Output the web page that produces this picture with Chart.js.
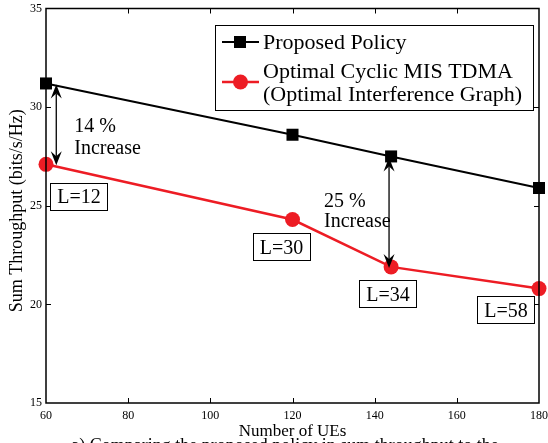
<!DOCTYPE html>
<html>
<head>
<meta charset="utf-8">
<script src="https://cdn.jsdelivr.net/npm/chart.js@4.4.1/dist/chart.umd.min.js"></script>
<style>
  html, body { margin: 0; background: #fff; }
</style>
</head>
<body>
<canvas id="c" width="548" height="443"></canvas>
<script>
// values
const ues = [60, 120, 144, 180];
const proposed = [31.2, 28.6, 27.5, 25.9];
const cyclic = [27.1, 24.3, 21.9, 20.8];
const cycleLen = ['L=12', 'L=30', 'L=34', 'L=58'];
const gainAt = [62.5, 143.5];      // x position of the double arrows
const gainIdx = [0, 2];            // which point pair each arrow spans
const gainText = ['14 %', '25 %'];
const xTicks = [60, 80, 100, 120, 140, 160, 180];
const yTicks = [15, 20, 25, 30, 35];

const SERIF = '"Liberation Serif", "Times New Roman", serif';
const RED = '#ed1c24';

// layout of the little boxes / texts (pixel offsets from the marks)
const boxOff = [[33, 32], [-11, 27], [-3, 27], [-33, 21]];
const gainOff = [{ dx: 18, l1: 7.5, l2: 29.5 }, { dx: -65, l1: -6, l2: 14 }];

function arrowHead(ctx, x, y, dir) {
  // dir = -1 points up, 1 points down
  ctx.beginPath();
  ctx.moveTo(x, y);
  ctx.lineTo(x - 5.5, y - dir * 14);
  ctx.lineTo(x, y - dir * 9);
  ctx.lineTo(x + 5.5, y - dir * 14);
  ctx.closePath();
  ctx.fill();
}

const decor = {
  id: 'decor',
  afterDatasetsDraw(chart) {
    const { ctx, chartArea: a, scales: { x, y } } = chart;
    ctx.save();

    // frame + inward ticks
    ctx.strokeStyle = '#000';
    ctx.lineWidth = 1.5;
    ctx.strokeRect(a.left, a.top, a.right - a.left, a.bottom - a.top);
    ctx.lineWidth = 1;
    ctx.beginPath();
    xTicks.slice(1, -1).forEach((v) => {
      const px = Math.round(x.getPixelForValue(v)) + 0.5;
      ctx.moveTo(px, a.bottom); ctx.lineTo(px, a.bottom - 5);
      ctx.moveTo(px, a.top); ctx.lineTo(px, a.top + 5);
    });
    yTicks.slice(1, -1).forEach((v) => {
      const py = Math.round(y.getPixelForValue(v)) + 0.5;
      ctx.moveTo(a.left, py); ctx.lineTo(a.left + 5, py);
      ctx.moveTo(a.right, py); ctx.lineTo(a.right - 5, py);
    });
    ctx.stroke();

    // double arrows with gain text
    ctx.fillStyle = '#000';
    ctx.strokeStyle = '#000';
    ctx.lineWidth = 1.3;
    ctx.font = '20px ' + SERIF;
    ctx.textAlign = 'left';
    ctx.textBaseline = 'alphabetic';
    gainAt.forEach((gx, k) => {
      const i = gainIdx[k];
      const px = x.getPixelForValue(gx);
      const y1 = y.getPixelForValue(proposed[i]) + 1;
      const y2 = y.getPixelForValue(cyclic[i]) + 1;
      ctx.beginPath();
      ctx.moveTo(px, y1 + 9); ctx.lineTo(px, y2 - 9);
      ctx.stroke();
      arrowHead(ctx, px, y1, -1);
      arrowHead(ctx, px, y2, 1);
      const mid = (y1 + y2) / 2;
      const o = gainOff[k];
      ctx.fillText(gainText[k], px + o.dx, mid + o.l1);
      ctx.fillText('Increase', px + o.dx, mid + o.l2);
    });

    // cycle length boxes
    ctx.textAlign = 'center';
    cycleLen.forEach((t, i) => {
      const cx = x.getPixelForValue(ues[i]) + boxOff[i][0];
      const cy = y.getPixelForValue(cyclic[i]) + boxOff[i][1];
      const w = ctx.measureText(t).width + 14;
      const h = 27;
      ctx.fillStyle = '#fff';
      ctx.fillRect(cx - w / 2, cy - h / 2, w, h);
      ctx.lineWidth = 1;
      ctx.strokeRect(Math.round(cx - w / 2) + 0.5, Math.round(cy - h / 2) + 0.5, Math.round(w), h);
      ctx.fillStyle = '#000';
      ctx.fillText(t, cx, cy + 7);
    });

    ctx.restore();
  },
  afterDraw(chart) {
    const { ctx, chartArea: a, data } = chart;
    ctx.save();

    // legend
    ctx.fillStyle = '#fff';
    ctx.fillRect(215, 25, 318, 85);
    ctx.strokeStyle = '#000';
    ctx.lineWidth = 1;
    ctx.strokeRect(215.5, 25.5, 318, 85);

    ctx.lineWidth = 2;
    ctx.beginPath(); ctx.moveTo(222, 42); ctx.lineTo(259, 42); ctx.stroke();
    ctx.fillStyle = '#000';
    ctx.fillRect(234, 36, 12, 12);

    ctx.strokeStyle = RED;
    ctx.lineWidth = 2.5;
    ctx.beginPath(); ctx.moveTo(222, 82); ctx.lineTo(259, 82); ctx.stroke();
    ctx.fillStyle = RED;
    ctx.beginPath(); ctx.arc(240.5, 82, 7.5, 0, Math.PI * 2); ctx.fill();

    ctx.fillStyle = '#000';
    ctx.font = '22px ' + SERIF;
    ctx.textAlign = 'left';
    ctx.textBaseline = 'alphabetic';
    ctx.fillText(data.datasets[0].label, 263, 49);
    const lab2 = data.datasets[1].label;
    ctx.fillText(lab2[0], 263, 78);
    ctx.fillText(lab2[1], 263, 101);

    // axis titles
    ctx.font = '17px ' + SERIF;
    ctx.textAlign = 'center';
    ctx.fillText('Number of UEs', (a.left + a.right) / 2, 436);
    ctx.save();
    ctx.translate(22, (a.top + a.bottom) / 2 + 5);
    ctx.rotate(-Math.PI / 2);
    ctx.font = '18px ' + SERIF;
    ctx.fillText('Sum Throughput (bits/s/Hz)', 0, 0);
    ctx.restore();

    // caption (cut off by the bottom edge)
    ctx.font = '18px ' + SERIF;
    ctx.fillText('a) Comparing the proposed policy in sum throughput to the', 285, 451);

    ctx.restore();
  }
};

const tickFont = { family: SERIF, size: 12 };

new Chart(document.getElementById('c'), {
  type: 'line',
  data: {
    datasets: [
      {
        label: 'Proposed Policy',
        data: ues.map((u, i) => ({ x: u, y: proposed[i] })),
        borderColor: '#000', backgroundColor: '#000',
        borderWidth: 2, pointStyle: 'rect', pointRadius: 8.5,
        pointBorderWidth: 0, tension: 0, clip: false,
      },
      {
        label: ['Optimal Cyclic MIS TDMA', '(Optimal Interference Graph)'],
        data: ues.map((u, i) => ({ x: u, y: cyclic[i] })),
        borderColor: RED, backgroundColor: RED,
        borderWidth: 2.5, pointStyle: 'circle', pointRadius: 7.5,
        pointBorderWidth: 0, tension: 0, clip: false,
      },
    ],
  },
  options: {
    responsive: false,
    animation: false,
    layout: { padding: { top: 7, right: 9, left: 0, bottom: 0 } },
    plugins: { legend: { display: false }, tooltip: { enabled: false } },
    scales: {
      x: {
        type: 'linear', min: 60, max: 180,
        afterBuildTicks: (s) => { s.ticks = xTicks.map((v) => ({ value: v })); },
        ticks: { color: '#000', font: tickFont, padding: 6, maxRotation: 0 },
        grid: { display: false, drawTicks: false },
        border: { display: false },
        afterFit: (s) => { s.height = 40; s.paddingLeft = 0; s.paddingRight = 0; },
      },
      y: {
        min: 15, max: 35,
        afterBuildTicks: (s) => { s.ticks = yTicks.map((v) => ({ value: v })); },
        ticks: { color: '#000', font: tickFont, padding: 4 },
        grid: { display: false, drawTicks: false },
        border: { display: false },
        afterFit: (s) => { s.width = 46; s.paddingTop = 0; s.paddingBottom = 0; },
      },
    },
  },
  plugins: [decor],
});
</script>
</body>
</html>
